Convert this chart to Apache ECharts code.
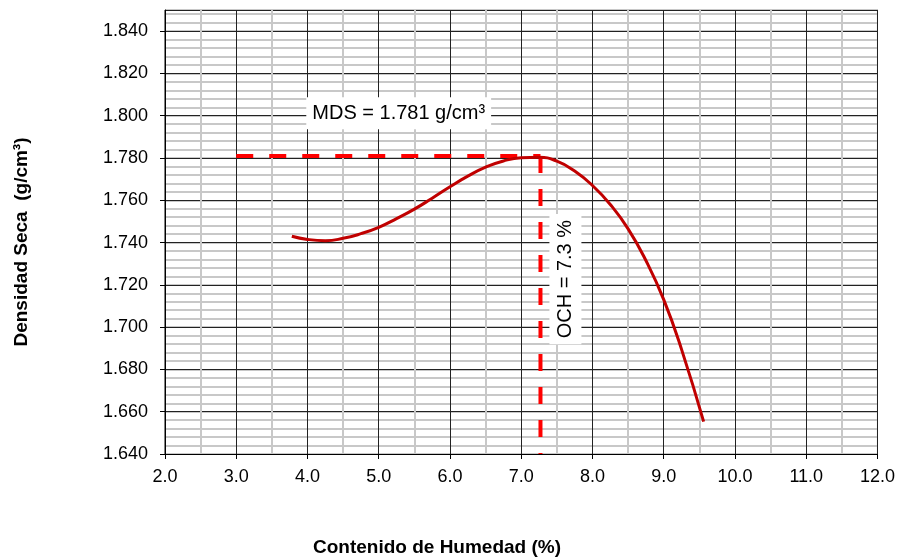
<!DOCTYPE html>
<html>
<head>
<meta charset="utf-8">
<script src="https://cdn.jsdelivr.net/npm/echarts@6/dist/echarts.min.js"></script>
<style>
  html, body { margin: 0; padding: 0; background: #fff; }
  #chart { width: 898px; height: 559px; }
</style>
</head>
<body>
<div id="chart"></div>
<script>
// curve: [humedad %, densidad g/cm3]
var curveX = [3.78, 4.0, 4.25, 4.5, 4.75, 5.0, 5.25, 5.5, 5.75, 6.0, 6.25, 6.5, 6.75, 7.0, 7.25, 7.5, 7.75, 8.0, 8.25, 8.5, 8.75, 9.0, 9.25, 9.56];
var curveY = [1.7430, 1.7415, 1.7409, 1.7420, 1.7442, 1.7472, 1.7513, 1.7558, 1.7610, 1.7664, 1.7714, 1.7757, 1.7786, 1.7801, 1.7803, 1.7785, 1.7738, 1.7670, 1.7580, 1.7465, 1.7315, 1.7130, 1.6895, 1.6553];

var mds = 1.781;
var och = 7.27;
var mdsLineStartX = 3.0;
var yMin = 1.640;
var yMax = 1.850;

var mdsLabel = 'MDS = 1.781 g/cm³';
var ochLabel = 'OCH = 7.3 %';
var mdsLabelPos = [5.28, 1.8012];
var ochLabelPos = [7.62, 1.7227];

var font = '"Liberation Sans", Arial, sans-serif';

var chart = echarts.init(document.getElementById('chart'));

var option = {
    animation: false,
    backgroundColor: '#fff',
    grid: {
        left: 165, right: 18, top: 10, bottom: 105,
        show: true, borderColor: '#000', borderWidth: 1
    },
    xAxis: {
        type: 'value', min: 2, max: 12, interval: 1, z: 1,
        axisLine: { lineStyle: { color: '#000', width: 1 } },
        axisTick: { show: true, length: 5, lineStyle: { color: '#000' } },
        axisLabel: { color: '#000', fontFamily: font, fontSize: 18, margin: 14,
            formatter: function (v) { return v.toFixed(1); } },
        splitLine: { show: true, lineStyle: { color: '#222', width: 1 } },
        minorTick: { show: false, splitNumber: 2 },
        minorSplitLine: { show: true, lineStyle: { color: '#c8c8c8', width: 2 } }
    },
    yAxis: [{
        type: 'value', min: yMin, max: yMax, interval: 0.02, z: 1,
        axisLine: { show: true, lineStyle: { color: '#000', width: 1 } },
        axisTick: { show: true, length: 5, lineStyle: { color: '#000' } },
        axisLabel: { color: '#000', fontFamily: font, fontSize: 18, margin: 17, showMaxLabel: false,
            formatter: function (v) { return v.toFixed(3); } },
        splitLine: { show: true, lineStyle: { color: '#222', width: 1 } }
    }, {
        type: 'value', min: yMin, max: yMax, interval: 0.004, z: 0, position: 'left',
        axisLine: { show: false }, axisTick: { show: false }, axisLabel: { show: false },
        splitLine: { show: true, lineStyle: { color: '#c8c8c8', width: 2 } }
    }],
    graphic: [{
        type: 'text', x: 437, y: 548,
        style: { text: 'Contenido de Humedad (%)', font: 'bold 19px ' + font, fill: '#000',
            textAlign: 'center', textVerticalAlign: 'middle' }
    }, {
        type: 'text', rotation: Math.PI / 2, x: 22, y: 242,
        style: { text: 'Densidad Seca  (g/cm³)', font: 'bold 19px ' + font, fill: '#000',
            textAlign: 'center', textVerticalAlign: 'middle' }
    }],
    series: [{
        type: 'line', smooth: true, showSymbol: false, z: 5,
        lineStyle: { color: '#c00000', width: 3 },
        data: curveX.map(function (x, i) { return [x, curveY[i]]; })
    }, {
        type: 'line', showSymbol: false, z: 4,
        lineStyle: { color: '#ff0000', width: 4, type: [17, 16] },
        data: [[mdsLineStartX, mds], [och, mds]]
    }, {
        type: 'line', showSymbol: false, z: 4,
        lineStyle: { color: '#ff0000', width: 4, type: [17, 16] },
        data: [[och, mds], [och, yMin]]
    }, {
        type: 'scatter', symbolSize: 0, z: 6,
        itemStyle: { opacity: 1 },
        label: {
            show: true, position: 'inside', color: '#000', fontFamily: font, fontSize: 20,
            backgroundColor: '#fff', padding: [6, 6],
            formatter: function (p) { return p.data.name; }
        },
        data: [
            { name: mdsLabel, value: mdsLabelPos },
            { name: ochLabel, value: ochLabelPos, label: { rotate: 90 } }
        ]
    }]
};

chart.setOption(option);
</script>
</body>
</html>
